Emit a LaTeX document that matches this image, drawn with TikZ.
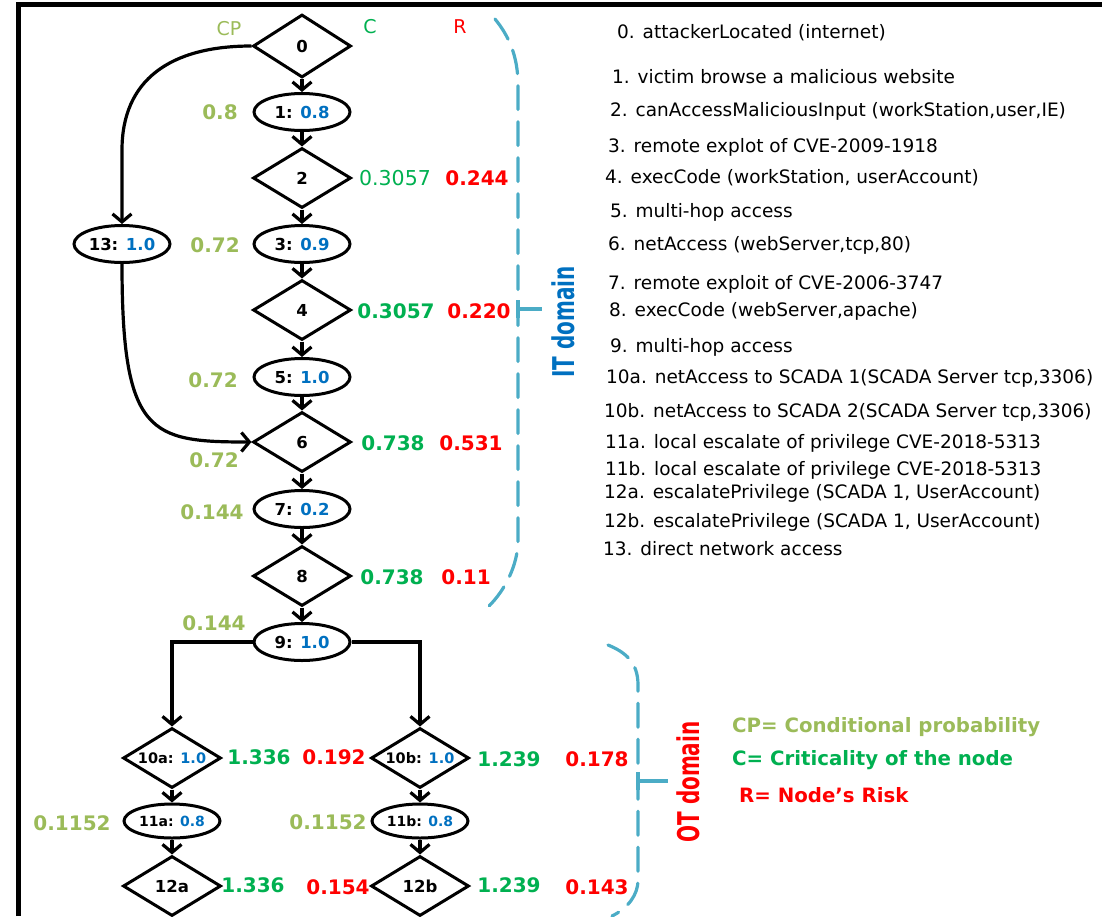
\documentclass[tikz,border=0pt]{standalone}
\usepackage{fontspec}
\setmainfont{DejaVu Sans}
\usetikzlibrary{shapes.geometric,arrows.meta}
\definecolor{cpolive}{HTML}{9BBB59}
\definecolor{cgreen}{HTML}{00B050}
\definecolor{rred}{HTML}{FF0000}
\definecolor{valblue}{HTML}{0070C0}
\definecolor{bracecol}{HTML}{4BACC6}
\newcommand{\fsz}[1]{\fontsize{#1}{#1}\selectfont}
\begin{document}
\begin{tikzpicture}[x=1pt,y=-1pt,
  dia/.style={draw, diamond, line width=3pt, minimum width=98pt, minimum height=60pt,
              shape aspect=1.6, inner sep=0pt, font=\fsz{16.5}\bfseries},
  ell/.style={draw, ellipse, line width=3pt, minimum width=96pt, minimum height=37pt,
              inner sep=0pt, font=\fsz{16.5}\bfseries},
  link/.style={line width=3.2pt, -{Straight Barb[length=8pt,width=19pt]}},
  cp/.style={text=cpolive, font=\fsz{20}\bfseries, inner sep=0pt},
  crit/.style={text=cgreen, font=\fsz{20}\bfseries, inner sep=0pt},
  risk/.style={text=rred, font=\fsz{20}\bfseries, inner sep=0pt},
  item/.style={anchor=west, font=\fsz{18.5}, inner sep=0pt},
  legend/.style={anchor=west, font=\fsz{19.75}\bfseries, inner sep=0pt},
  brace/.style={draw=bracecol, line width=3.2pt, dash pattern=on 24pt off 12pt, line cap=round},
  tick/.style={draw=bracecol, line width=3.2pt},
]
\useasboundingbox (0,0) rectangle (1102,916);

% frame
\draw[line width=5pt] (18.5,916) -- (18.5,4.5) -- (1102,4.5);

% main chain
\node[dia, minimum height=63pt] (n0) at (302,46) {0};
\node[ell] (n1) at (302,112) {1: \textcolor{valblue}{0.8}};
\node[dia] (n2) at (302,178) {2};
\node[ell] (n3) at (302,244) {3: \textcolor{valblue}{0.9}};
\node[dia] (n4) at (302,310) {4};
\node[ell] (n5) at (302,377) {5: \textcolor{valblue}{1.0}};
\node[dia] (n6) at (302,442) {6};
\node[ell] (n7) at (302,509) {7: \textcolor{valblue}{0.2}};
\node[dia] (n8) at (302,576) {8};
\node[ell] (n9) at (302,642) {9: \textcolor{valblue}{1.0}};
\node[ell] (n13) at (122,244) {13: \textcolor{valblue}{1.0}};

% SCADA branches
\node[dia, font=\fsz{14.5}\bfseries] (n10a) at (172,758) {10a: \textcolor{valblue}{1.0}};
\node[ell, minimum height=34pt, font=\fsz{14}\bfseries] (n11a) at (172,821) {11a: \textcolor{valblue}{0.8}};
\node[dia] (n12a) at (172,886) {12a};
\node[dia, font=\fsz{14.5}\bfseries] (n10b) at (420,758) {10b: \textcolor{valblue}{1.0}};
\node[ell, minimum height=34pt, font=\fsz{14}\bfseries] (n11b) at (420,821) {11b: \textcolor{valblue}{0.8}};
\node[dia] (n12b) at (420,886) {12b};

% connectors
\draw[link] (n0) -- (n1);
\draw[link] (n1) -- (n2);
\draw[link] (n2) -- (n3);
\draw[link] (n3) -- (n4);
\draw[link] (n4) -- (n5);
\draw[link] (n5) -- (n6);
\draw[link] (n6) -- (n7);
\draw[link] (n7) -- (n8);
\draw[link] (n8) -- (n9);
\draw[link] (n0.west) .. controls (170,46) and (122,80) .. (122,150) -- (n13.north);
\draw[link] (n13.south) .. controls (122,435) and (150,442) .. (n6.west);
\draw[link] (n9.west) -| (n10a.north);
\draw[link] (n9.east) -| (n10b.north);
\draw[link] (n10a) -- (n11a);
\draw[link] (n11a) -- (n12a);
\draw[link] (n10b) -- (n11b);
\draw[link] (n11b) -- (n12b);

% column headings
\node[text=cpolive, font=\fsz{19}] (hcp) at (229,29) {CP};
\node[text=cgreen, font=\fsz{19}] (hc) at (370,27) {C};
\node[text=rred, font=\fsz{19}] (hr) at (460,27) {R};

% values
\node[cp] (v1) at (220,112) {0.8};
\node[text=cgreen, font=\fsz{20.5}, inner sep=0pt] (c2) at (395,178) {0.3057};
\node[risk] (r2) at (477,178) {0.244};
\node[cp] (v3) at (215,245) {0.72};
\node[crit] (c4) at (396,311) {0.3057};
\node[risk] (r4) at (479,311) {0.220};
\node[cp] (v5) at (213,380) {0.72};
\node[crit] (c6) at (393,443) {0.738};
\node[risk] (r6) at (471,443) {0.531};
\node[cp] (v6) at (214,460) {0.72};
\node[cp] (v7) at (212,512) {0.144};
\node[crit] (c8) at (392,577) {0.738};
\node[risk] (r8) at (466,577) {0.11};
\node[cp] (v9) at (214,623) {0.144};
\node[crit] (c10a) at (259,757) {1.336};
\node[risk] (r10a) at (334,757) {0.192};
\node[crit] (c10b) at (509,759) {1.239};
\node[risk] (r10b) at (597,759) {0.178};
\node[cp] (v11a) at (72,823) {0.1152};
\node[cp] (v11b) at (328,822) {0.1152};
\node[crit] (c12a) at (253,885) {1.336};
\node[risk] (r12a) at (338,887) {0.154};
\node[crit] (c12b) at (509,885) {1.239};
\node[risk] (r12b) at (597,887) {0.143};

% domain braces
\draw[brace] (495,19) .. controls (508,35) and (518,55) .. (518,85) -- (518,540)
             .. controls (518,565) and (505,590) .. (489,606);
\draw[tick] (518,300) -- (518,318) (518,309) -- (542,309);
\node[rotate=90, text=valblue, font=\fsz{20}\bfseries, inner sep=0pt] (itdom) at (563,322)
  {\scalebox{1}[1.5]{IT domain}};

\draw[brace] (608,645) .. controls (625,652) and (638,662) .. (638,685) -- (638,880)
             .. controls (638,895) and (628,908) .. (612,916);
\draw[tick] (638,772) -- (638,790) (638,781) -- (668,781);
\node[rotate=90, text=rred, font=\fsz{20}\bfseries, inner sep=0pt] (otdom) at (688,782)
  {\scalebox{1}[1.5]{OT domain}};

% node descriptions
\node[item] (d0) at (617,33) {0. attackerLocated (internet)};
\node[item] (d1) at (612,77) {1. victim browse a malicious website};
\node[item] (d2) at (610,111) {2. canAccessMaliciousInput (workStation,user,IE)};
\node[item] (d3) at (608,147) {3. remote explot of CVE-2009-1918};
\node[item] (d4) at (605,178) {4. execCode (workStation, userAccount)};
\node[item] (d5) at (610,212) {5. multi-hop access};
\node[item] (d6) at (608,245) {6. netAccess (webServer,tcp,80)};
\node[item] (d7) at (608,284) {7. remote exploit of CVE-2006-3747};
\node[item] (d8) at (609,311) {8. execCode (webServer,apache)};
\node[item] (d9) at (610,347) {9. multi-hop access};
\node[item] (d10a) at (606,378) {10a. netAccess to SCADA 1(SCADA Server tcp,3306)};
\node[item] (d10b) at (604,412) {10b. netAccess to SCADA 2(SCADA Server tcp,3306)};
\node[item] (d11a) at (605,443) {11a. local escalate of privilege CVE-2018-5313};
\node[item] (d11b) at (605,470) {11b. local escalate of privilege CVE-2018-5313};
\node[item] (d12a) at (604,493) {12a. escalatePrivilege (SCADA 1, UserAccount)};
\node[item] (d12b) at (604,522) {12b. escalatePrivilege (SCADA 1, UserAccount)};
\node[item] (d13) at (603,549) {13. direct network access};

% legend
\node[legend, text=cpolive] (lg1) at (732,727) {CP= Conditional probability};
\node[legend, text=cgreen] (lg2) at (732,760) {C= Criticality of the node};
\node[legend, text=rred] (lg3) at (739,795) {R= Node’s Risk};
\end{tikzpicture}
\end{document}
